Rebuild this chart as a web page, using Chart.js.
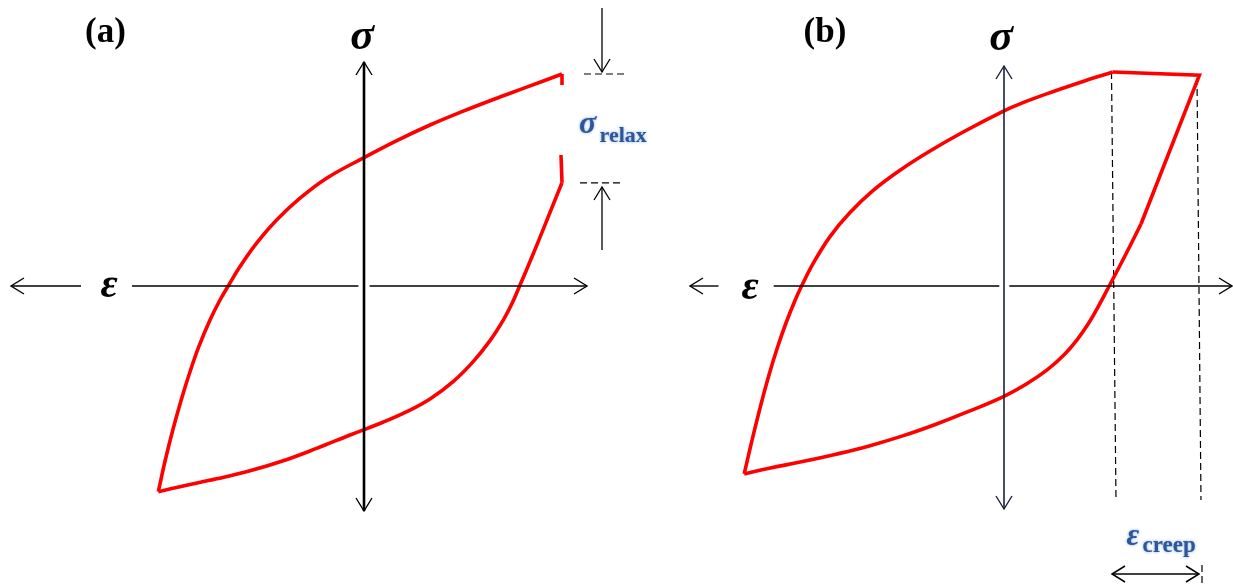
<!DOCTYPE html>
<html>
<head>
<meta charset="utf-8">
<script src="https://cdn.jsdelivr.net/npm/chart.js@4.4.0/dist/chart.umd.min.js"></script>
<style>
  html, body { margin: 0; padding: 0; background: #fff; }
  #wrap { position: relative; width: 1233px; height: 585px; overflow: hidden; }
  .panel { position: absolute; top: 0; height: 585px; }
</style>
</head>
<body>
<div id="wrap">
  <div class="panel" style="left:0;width:665px"><canvas id="chartA" width="665" height="585"></canvas></div>
  <div class="panel" style="left:665px;width:568px"><canvas id="chartB" width="568" height="585"></canvas></div>
</div>
<script>
// normalised strain (eps) / stress (sig) values

// (a) stress relaxation loop
const aUpperEps = [-1.0285, -0.9935, -0.956, -0.914, -0.8725, -0.826, -0.77, -0.72, -0.679, -0.62, -0.537, -0.437, -0.32, -0.187, 0.0, 0.164, 0.33, 0.49, 0.65, 0.81, 0.99];
const aUpperSig = [-1.0285, -0.87, -0.72, -0.57, -0.4365, -0.3035, -0.17, -0.07, 0.0, 0.097, 0.214, 0.33, 0.439, 0.539, 0.642, 0.727, 0.805, 0.872, 0.934, 0.993, 1.06];
const aRelaxEps = [0.99, 0.99, null, 0.985, 0.99];
const aRelaxSig = [1.06, 1.005, null, 0.655, 0.516];
// lower (unloading) branch, listed left to right
const aLowerEps = [-1.0285, -0.904, -0.737, -0.57, -0.404, -0.237, -0.07, 0.097, 0.214, 0.33, 0.447, 0.547, 0.63, 0.697, 0.74, 0.778, 0.84, 0.897, 0.947, 0.99];
const aLowerSig = [-1.0285, -1.0, -0.964, -0.924, -0.874, -0.812, -0.745, -0.68, -0.628, -0.5645, -0.4767, -0.3767, -0.273, -0.169, -0.0874, 0.0, 0.146, 0.2855, 0.41, 0.516];
const aRelaxLevels = [1.06, 0.516];

// (b) creep loop
const bUpperEps = [-1.299, -1.257, -1.215, -1.174, -1.132, -1.09, -1.045, -1.012, -0.954, -0.87, -0.77, -0.654, -0.52, -0.37, -0.204, 0.0, 0.08, 0.23, 0.38, 0.544];
const bUpperSig = [-0.9395, -0.759, -0.591, -0.441, -0.305, -0.185, -0.0726, 0.0, 0.113, 0.247, 0.367, 0.478, 0.579, 0.675, 0.77, 0.876, 0.911, 0.9665, 1.0175, 1.07];
const bCreepEps = [0.544, 0.977, 0.685];
const bCreepSig = [1.07, 1.054, 0.31];
const bLowerEps = [-1.299, -1.174, -1.007, -0.84, -0.674, -0.507, -0.34, -0.174, 0.0, 0.114, 0.214, 0.297, 0.364, 0.43, 0.48, 0.526, 0.58, 0.63, 0.685];
const bLowerSig = [-0.9395, -0.911, -0.878, -0.841, -0.7996, -0.7495, -0.691, -0.626, -0.5514, -0.4887, -0.4207, -0.3477, -0.2706, -0.1749, -0.0874, 0.0, 0.1026, 0.2, 0.31];
const bCreepStart = [0.5375, 0.56];  // eps at top / bottom of left guide
const bCreepEnd = [0.965, 0.985];    // eps at top / bottom of right guide

const Y_MIN = -1.495, Y_MAX = 1.43;
const RED = "#ff0000";

function pts(xs, ys) {
  return xs.map((x, i) => (x === null ? { x: NaN, y: NaN } : { x: x, y: ys[i] }));
}

function redLine(data, tension) {
  return {
    data: data,
    showLine: true,
    borderColor: RED,
    borderWidth: 3.6,
    tension: tension,
    pointRadius: 0,
    fill: false,
    spanGaps: false,
    borderJoinStyle: "miter"
  };
}

function dashLine(data) {
  return {
    data: data,
    showLine: true,
    borderColor: "#000",
    borderWidth: 1.2,
    borderDash: [7, 4],
    pointRadius: 0,
    fill: false
  };
}

// overlay specs (axes, arrows, labels), positioned in data units
const overlays = {
  chartA: {
    hSegs: [[-1.765, -1.415], [-1.16, -0.028], [0.028, 1.115]],
    hHeads: [-1.765, 1.115],
    hWidth: 1.4,
    vAxis: [-1.125, 1.12],
    vWidth: 2.6,
    vColor: "#000",
    arrows: [
      { x: 1.19, from: 1.39, to: 1.07 },
      { x: 1.19, from: 0.18, to: 0.495 }
    ],
    texts: [
      { t: "(a)", x: -1.2925, y: 1.22, font: "bold 35px 'Liberation Serif'", color: "#000", align: "center" },
      { t: "σ", x: -0.01, y: 1.185, font: "bold italic 44px 'Liberation Serif'", color: "#000", align: "center" },
      { t: "ε", x: -1.275, y: -0.055, font: "bold italic 42px 'Liberation Serif'", color: "#000", align: "center" },
      { t: "σ", x: 1.075, y: 0.765, font: "bold italic 32px 'Liberation Serif'", color: "#2f5797", align: "left", glow: true },
      { t: "relax", x: 1.178, y: 0.72, font: "bold 22px 'Liberation Serif'", color: "#2f5797", align: "left", glow: true }
    ]
  },
  chartB: {
    hSegs: [[-1.57, -1.4275], [-1.1515, -0.0235], [0.0265, 1.14]],
    hHeads: [-1.57, 1.14],
    hWidth: 1.4,
    vAxis: [-1.115, 1.1],
    vWidth: 1.6,
    vColor: "#1b2238",
    arrows: [],
    dbl: { y: -1.44, from: 0.54, to: 0.975 },
    texts: [
      { t: "(b)", x: -0.895, y: 1.22, font: "bold 35px 'Liberation Serif'", color: "#000", align: "center" },
      { t: "σ", x: -0.015, y: 1.18, font: "bold italic 44px 'Liberation Serif'", color: "#000", align: "center" },
      { t: "ε", x: -1.27, y: -0.065, font: "bold italic 42px 'Liberation Serif'", color: "#000", align: "center" },
      { t: "ε", x: 0.613, y: -1.295, font: "bold italic 31px 'Liberation Serif'", color: "#2f5797", align: "left", glow: true },
      { t: "creep", x: 0.693, y: -1.33, font: "bold 23px 'Liberation Serif'", color: "#2f5797", align: "left", glow: true }
    ]
  }
};

function head(ctx, x, y, dx, dy) {
  const len = 13, half = 8;
  const px = -dy, py = dx;
  ctx.beginPath();
  ctx.moveTo(x - dx * len + px * half, y - dy * len + py * half);
  ctx.lineTo(x, y);
  ctx.lineTo(x - dx * len - px * half, y - dy * len - py * half);
  ctx.stroke();
}

const overlayPlugin = {
  id: "overlay",
  afterDatasetsDraw(chart) {
    const spec = overlays[chart.canvas.id];
    if (!spec) return;
    const ctx = chart.ctx;
    const sx = chart.scales.x, sy = chart.scales.y;
    const X = v => sx.getPixelForValue(v);
    const Y = v => sy.getPixelForValue(v);
    ctx.save();
    ctx.lineCap = "butt";

    // horizontal (strain) axis
    ctx.strokeStyle = "#000";
    ctx.lineWidth = spec.hWidth;
    const y0 = Y(0);
    spec.hSegs.forEach(s => {
      ctx.beginPath();
      ctx.moveTo(X(s[0]), y0);
      ctx.lineTo(X(s[1]), y0);
      ctx.stroke();
    });
    head(ctx, X(spec.hHeads[0]), y0, -1, 0);
    head(ctx, X(spec.hHeads[1]), y0, 1, 0);

    // vertical (stress) axis
    ctx.strokeStyle = spec.vColor;
    ctx.lineWidth = spec.vWidth;
    const x0 = X(0);
    ctx.beginPath();
    ctx.moveTo(x0, Y(spec.vAxis[0]));
    ctx.lineTo(x0, Y(spec.vAxis[1]));
    ctx.stroke();
    ctx.lineWidth = 1.4;
    head(ctx, x0, Y(spec.vAxis[1]), 0, -1);
    head(ctx, x0, Y(spec.vAxis[0]), 0, 1);

    // single arrows
    ctx.strokeStyle = "#000";
    ctx.lineWidth = 1.3;
    spec.arrows.forEach(a => {
      const xa = X(a.x), ya = Y(a.from), yb = Y(a.to);
      ctx.beginPath();
      ctx.moveTo(xa, ya);
      ctx.lineTo(xa, yb);
      ctx.stroke();
      head(ctx, xa, yb, 0, yb > ya ? 1 : -1);
    });

    // double arrow
    if (spec.dbl) {
      const yd = Y(spec.dbl.y), xa = X(spec.dbl.from), xb = X(spec.dbl.to);
      ctx.lineWidth = 1.5;
      ctx.beginPath();
      ctx.moveTo(xa, yd);
      ctx.lineTo(xb, yd);
      ctx.stroke();
      head(ctx, xa, yd, -1, 0);
      head(ctx, xb, yd, 1, 0);
    }

    // labels
    ctx.textBaseline = "alphabetic";
    spec.texts.forEach(t => {
      ctx.font = t.font;
      ctx.fillStyle = t.color;
      ctx.textAlign = t.align;
      if (t.glow) {
        ctx.shadowColor = "rgba(110,160,225,0.9)";
        ctx.shadowBlur = 3;
      } else {
        ctx.shadowColor = "transparent";
        ctx.shadowBlur = 0;
      }
      ctx.fillText(t.t, X(t.x), Y(t.y));
    });
    ctx.restore();
  }
};

function makeChart(id, datasets, xMin, xMax) {
  return new Chart(document.getElementById(id), {
    type: "scatter",
    data: { datasets: datasets },
    options: {
      responsive: false,
      animation: false,
      layout: { padding: 0 },
      plugins: { legend: { display: false }, tooltip: { enabled: false } },
      scales: {
        x: { type: "linear", min: xMin, max: xMax, display: false },
        y: { type: "linear", min: Y_MIN, max: Y_MAX, display: false }
      }
    },
    plugins: [overlayPlugin]
  });
}

makeChart("chartA", [
  redLine(pts(aUpperEps, aUpperSig), 0.4),
  redLine(pts(aRelaxEps, aRelaxSig), 0),
  redLine(pts(aLowerEps, aLowerSig), 0.4),
  dashLine(pts([1.10, 1.305], [aRelaxLevels[0], aRelaxLevels[0]])),
  dashLine(pts([1.08, 1.29], [aRelaxLevels[1], aRelaxLevels[1]]))
], -1.82, 1.505);

makeChart("chartB", [
  redLine(pts(bUpperEps, bUpperSig), 0.4),
  redLine(pts(bCreepEps, bCreepSig), 0),
  redLine(pts(bLowerEps, bLowerSig), 0.4),
  dashLine(pts(bCreepStart, [1.07, -1.07])),
  dashLine(pts(bCreepEnd, [1.04, -1.07])),
  dashLine(pts([0.99, 0.99], [-1.395, -1.5]))
], -1.695, 1.145);
</script>
</body>
</html>
